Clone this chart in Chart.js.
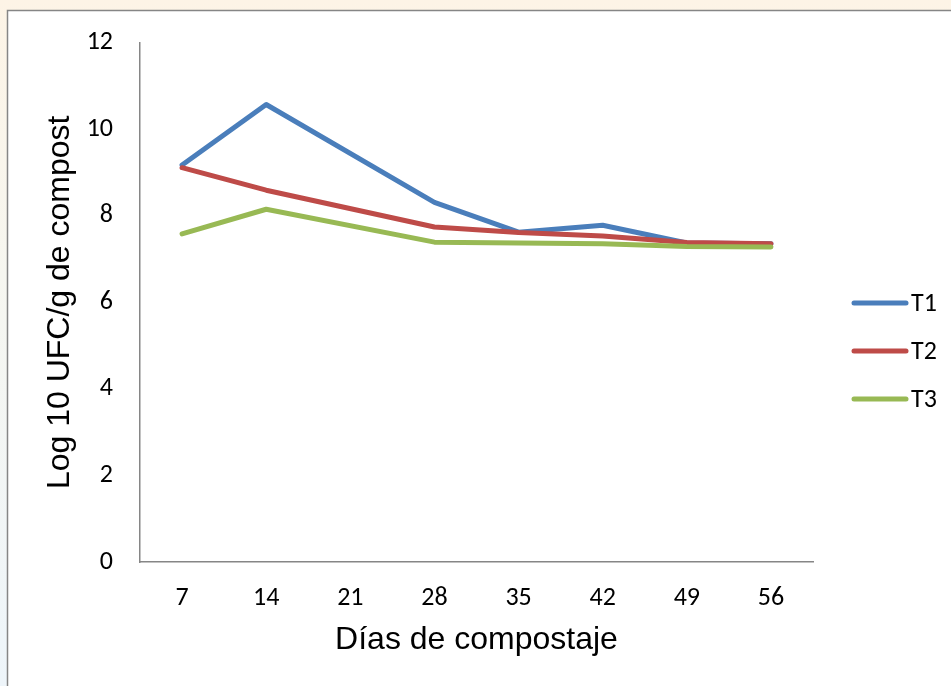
<!DOCTYPE html>
<html>
<head>
<meta charset="utf-8">
<script src="https://cdn.jsdelivr.net/npm/chart.js@4/dist/chart.umd.min.js"></script>
<style>
  html, body { margin: 0; padding: 0; background: #ffffff; }
  #wrap { position: relative; width: 951px; height: 686px; }
  canvas { display: block; }
</style>
</head>
<body>
<div id="wrap"><canvas id="chart" width="951" height="686"></canvas></div>
<script>
// Días de compostaje (sin muestreo el día 21)
const dias = ['7', '14', '21', '28', '35', '42', '49', '56'];
const t1 = [9.17, 10.57, null, 8.31, 7.62, 7.78, 7.37, 7.35];
const t2 = [9.11, 8.59, null, 7.74, 7.61, 7.53, 7.38, 7.35];
const t3 = [7.58, 8.15, null, 7.39, 7.37, 7.35, 7.29, 7.28];
const seriesNames = ['T1', 'T2', 'T3'];
const seriesColors = ['#4A7EBB', '#BE4B48', '#98B954'];
const yTicks = { min: 0, max: 12, step: 2 };

const tickFont = { family: 'Carlito, Lato, sans-serif', size: 26 };
const titleFont = { family: '"Liberation Sans", Arial, sans-serif', size: 32 };

// Frame and faint page tint around the chart box
const framePlugin = {
  id: 'frame',
  beforeDraw(chart) {
    const ctx = chart.ctx;
    ctx.save();
    const g = ctx.createLinearGradient(0, 0, 0, chart.height);
    g.addColorStop(0, '#fdf4e6');
    g.addColorStop(0.4, '#f6f6f0');
    g.addColorStop(1, '#eef5fa');
    ctx.fillStyle = g;
    ctx.fillRect(0, 0, chart.width, chart.height);
    ctx.fillStyle = '#ffffff';
    ctx.fillRect(7, 10, chart.width, chart.height);
    ctx.strokeStyle = '#868686';
    ctx.lineWidth = 1.5;
    ctx.strokeRect(7.5, 10.5, chart.width + 10, chart.height + 10);
    ctx.restore();
  }
};

// Legend at the right with line samples
const sideLegend = {
  id: 'sideLegend',
  afterDraw(chart) {
    const ctx = chart.ctx;
    ctx.save();
    ctx.font = `${tickFont.size}px ${tickFont.family}`;
    ctx.textBaseline = 'middle';
    ctx.textAlign = 'left';
    chart.data.datasets.forEach((ds, i) => {
      const y = 303 + i * 48;
      ctx.strokeStyle = ds.borderColor;
      ctx.lineWidth = 5;
      ctx.lineCap = 'round';
      ctx.beginPath();
      ctx.moveTo(854, y);
      ctx.lineTo(906, y);
      ctx.stroke();
      ctx.fillStyle = '#000000';
      ctx.fillText(ds.label, 911, y + 1);
    });
    ctx.restore();
  }
};

const values = [t1, t2, t3];
new Chart(document.getElementById('chart'), {
  type: 'line',
  data: {
    labels: dias,
    datasets: values.map((v, i) => ({
      label: seriesNames[i],
      data: v,
      borderColor: seriesColors[i],
      backgroundColor: seriesColors[i],
      borderWidth: 5,
      pointRadius: 0,
      tension: 0,
      spanGaps: true,
      borderJoinStyle: 'round',
      borderCapStyle: 'round',
      order: 3 - i
    }))
  },
  options: {
    responsive: false,
    animation: false,
    events: [],
    layout: { padding: { left: 0, top: 40, right: 138, bottom: 0 } },
    plugins: {
      legend: { display: false },
      tooltip: { enabled: false }
    },
    scales: {
      x: {
        offset: true,
        grid: { display: false, drawTicks: false, tickLength: 0 },
        border: { display: true, color: '#868686', width: 1.5 },
        ticks: { color: '#000000', font: tickFont, padding: 21, maxRotation: 0, autoSkip: false },
        title: {
          display: true,
          text: 'Días de compostaje',
          color: '#000000',
          font: titleFont,
          padding: { top: 0, bottom: 27 }
        },
        afterFit(scale) { scale.height = 124; }
      },
      y: {
        min: yTicks.min,
        max: yTicks.max,
        grid: { display: false, drawTicks: false, tickLength: 0 },
        border: { display: true, color: '#868686', width: 1.5 },
        ticks: { stepSize: yTicks.step, color: '#000000', font: tickFont, padding: 27 },
        title: {
          display: true,
          text: 'Log 10 UFC/g de compost',
          color: '#000000',
          font: titleFont,
          padding: { top: 41, bottom: 0 }
        },
        afterFit(scale) { scale.width = 140; }
      }
    }
  },
  plugins: [framePlugin, sideLegend]
});
</script>
</body>
</html>
